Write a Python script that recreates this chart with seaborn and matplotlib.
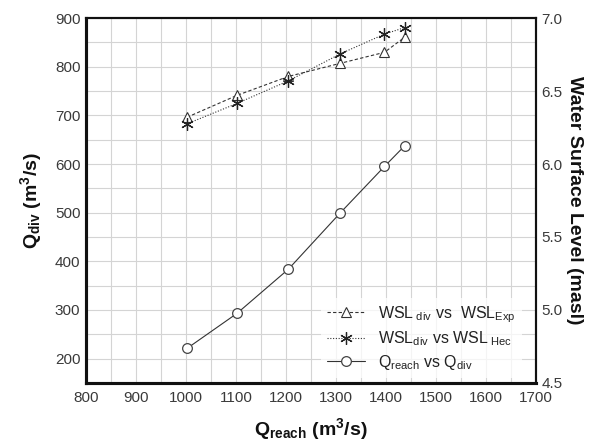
import matplotlib
matplotlib.use("Agg")
import matplotlib.pyplot as plt
import seaborn as sns
import numpy as np

q_reach = [1002, 1102, 1205, 1309, 1397, 1438]
q_div = [221, 293, 384, 500, 595, 638]
wsl_exp = [6.32, 6.47, 6.60, 6.69, 6.765, 6.87]
wsl_hec = [6.275, 6.415, 6.57, 6.755, 6.89, 6.935]

sns.set_theme(style="white")
plt.rcParams['font.family'] = ['Liberation Sans', 'DejaVu Sans']
plt.rcParams['mathtext.fontset'] = 'custom'
plt.rcParams['mathtext.rm'] = 'Liberation Sans'
plt.rcParams['mathtext.bf'] = 'Liberation Sans:bold'
plt.rcParams['mathtext.it'] = 'Liberation Sans:italic'

fig = plt.figure(figsize=(5.95, 4.47), dpi=100)
ax = fig.add_axes([0.1445, 0.1432, 0.7563, 0.8165])
ax2 = ax.twinx()

ax.set_xlim(800, 1700)
ax.set_ylim(150, 900)
ax2.set_ylim(4.5, 7.0)

ax.set_xticks(np.arange(800, 1701, 100))
ax.set_xticks(np.arange(850, 1700, 100), minor=True)
ax.set_yticks(np.arange(200, 901, 100))
ax.set_yticks(np.arange(150, 900, 100), minor=True)
ax2.set_yticks(np.arange(4.5, 7.01, 0.5))
ax2.set_yticklabels([f"{v:.1f}" for v in np.arange(4.5, 7.01, 0.5)])

ax.grid(True, which='both', color='#d4d4d4', linewidth=0.8)
ax.set_axisbelow(True)

sns.lineplot(x=q_reach, y=wsl_exp, ax=ax2, color='#333333', linestyle=(0, (3, 2)),
             linewidth=0.8, marker='^', markersize=7, markerfacecolor='white',
             markeredgecolor='#333333', markeredgewidth=0.8, sort=False,
             label=r"WSL$_{\rm\ div}$ vs  WSL$_{\rm Exp}$")
sns.lineplot(x=q_reach, y=wsl_hec, ax=ax2, color='#333333', linestyle=(0, (1, 1.5)),
             linewidth=0.8, marker=(6, 2, 0), markersize=9,
             markeredgecolor='#222222', markeredgewidth=0.9, sort=False,
             label=r"WSL$_{\rm div}$ vs WSL$_{\rm\ Hec}$")
sns.lineplot(x=q_reach, y=q_div, ax=ax, color='#333333', linestyle='-',
             linewidth=0.8, marker='o', markersize=7, markerfacecolor='white',
             markeredgecolor='#444444', markeredgewidth=0.9, sort=False,
             label=r"Q$_{\rm reach}$ vs Q$_{\rm div}$")

h1, lab1 = ax2.get_legend_handles_labels()
h2, lab2 = ax.get_legend_handles_labels()
if ax.get_legend():
    ax.get_legend().remove()
if ax2.get_legend():
    ax2.get_legend().remove()
leg = ax2.legend(h1 + h2, lab1 + lab2, loc='lower right', bbox_to_anchor=(0.98, 0.0),
                 fontsize=11.5, frameon=True, facecolor='white', edgecolor='none',
                 framealpha=0.75, handlelength=2.4, borderaxespad=0.3, labelspacing=0.3)
for t in leg.get_texts():
    t.set_color('#222222')

for a in (ax, ax2):
    a.tick_params(axis='both', which='both', length=0, labelsize=11, labelcolor='#3a3a3a', pad=4)
    for s in a.spines.values():
        s.set_color('#111111')
for a in (ax, ax2):
    a.spines['left'].set_linewidth(2.2)
    a.spines['bottom'].set_linewidth(2.2)
    a.spines['top'].set_linewidth(1.5)
    a.spines['right'].set_linewidth(1.5)
ax.tick_params(axis='x', pad=6)

ax.set_xlabel(r"$\mathbf{Q_{reach}}$ $\mathbf{(m^3/s)}$", fontsize=14, labelpad=8, color='#111111')
ax.set_ylabel(r"$\mathbf{Q_{div}}$ $\mathbf{(m^3/s)}$", fontsize=14, labelpad=8, color='#111111')
ax2.set_ylabel("Water Surface Level (masl)", fontsize=14, fontweight='bold', rotation=270,
               labelpad=15, color='#111111')

fig.savefig("out.png", dpi=100)
